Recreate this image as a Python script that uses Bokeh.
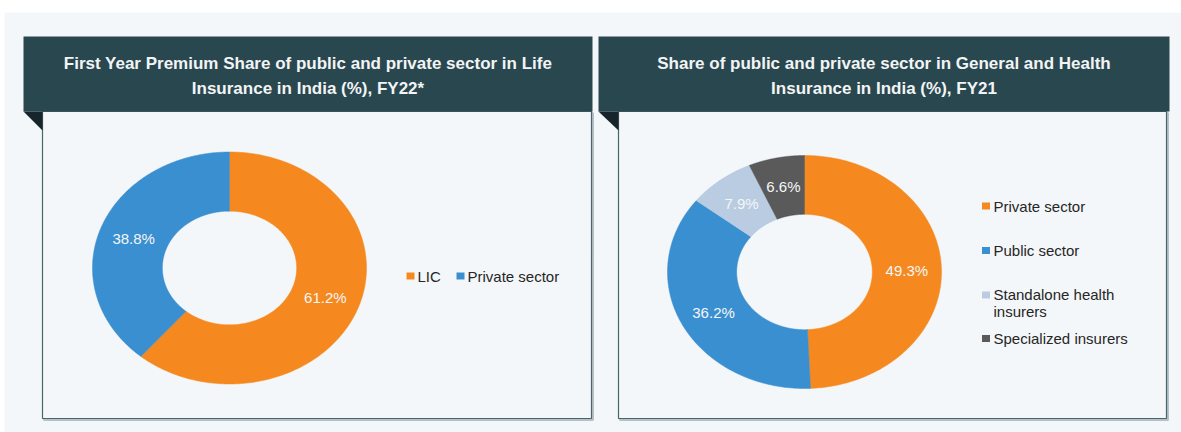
import numpy as np
from bokeh.plotting import figure
from bokeh.models import Range1d
from bokeh.core.properties import value
from bokeh.embed import file_html
from bokeh.resources import INLINE

# ---------------- data ----------------
title_left = ["First Year Premium Share of public and private sector in Life",
              "Insurance in India (%), FY22*"]
title_right = ["Share of public and private sector in General and Health",
               "Insurance in India (%), FY21"]

life_categories = ["LIC", "Private sector"]
life_shares = [61.2, 38.8]
life_colors = ["#F5891F", "#3A8FD0"]

gen_categories = ["Private sector", "Public sector", "Standalone health\ninsurers", "Specialized insurers"]
gen_shares = [49.3, 36.2, 7.9, 6.6]
gen_colors = ["#F5891F", "#3A8FD0", "#B9CCE1", "#5A5A5A"]

FONT = "Liberation Sans"

W, H = 1181, 432
p = figure(width=W, height=H, output_backend="svg", toolbar_location=None,
           x_range=Range1d(0, W), y_range=Range1d(H, 0),
           min_border=0, border_fill_color="white", background_fill_color="white")
p.axis.visible = False
p.grid.visible = False
p.outline_line_color = None

# page background
p.quad(left=[4], right=[1190], top=[12], bottom=[440], fill_color="#F4F7F9", line_color=None)


def panel(x0, x1, bx0, bx1, title):
    # shadow of box
    p.quad(left=[bx0 + 1.5], right=[bx1 + 1.5], top=[111 + 1.5], bottom=[418 + 1.5],
           fill_color=None, line_color="#B4C2C6", line_width=2)
    p.quad(left=[bx0], right=[bx1], top=[111], bottom=[418],
           fill_color="#F4F7F9", line_color="#4A646B", line_width=1.2)
    # banner
    p.quad(left=[x0], right=[x1], top=[36], bottom=[111], fill_color="#29474F", line_color=None)
    p.patch([x0, bx0, bx0], [111, 111, 130], fill_color="#16252A", line_color=None)
    cx = (x0 + x1) / 2
    p.text(x=[cx, cx], y=[63, 88], text=title, text_align="center", text_baseline="middle",
           text_font=value(FONT), text_font_style="bold", text_font_size="17px",
           text_color="#F2F4F5")


panel(23, 592, 42, 591, title_left)
panel(598, 1169, 618, 1166, title_right)


def donut(cx, cy, rx, ry, inner, shares, colors):
    total = float(sum(shares))
    start = 0.0
    xs, ys, lx, ly, labels = [], [], [], [], []
    for s in shares:
        end = start + s / total
        t = np.linspace(2 * np.pi * start, 2 * np.pi * end, 200)
        ox = cx + rx * np.sin(t)
        oy = cy - ry * np.cos(t)
        ix = cx + rx * inner * np.sin(t[::-1])
        iy = cy - ry * inner * np.cos(t[::-1])
        xs.append(np.concatenate([ox, ix]).tolist())
        ys.append(np.concatenate([oy, iy]).tolist())
        m = 2 * np.pi * (start + end) / 2
        rm = (1 + inner) / 2
        lx.append(cx + rx * rm * np.sin(m))
        ly.append(cy - ry * rm * np.cos(m))
        labels.append(f"{s:.1f}%")
        start = end
    p.patches(xs=xs, ys=ys, fill_color=colors, line_color=colors, line_width=0.5)
    p.text(x=lx, y=ly, text=labels, text_align="center", text_baseline="middle",
           text_font=value(FONT), text_font_size="15px", text_color="#F4F6F8")


donut(229, 267.5, 137, 116, 0.49, life_shares, life_colors)
donut(804, 271.5, 137, 116.5, 0.495, gen_shares, gen_colors)

# left legend (horizontal)
leg_x = [410, 460]
p.rect(x=leg_x, y=[275.5, 275.5], width=8, height=7, fill_color=life_colors, line_color=None)
p.text(x=[x + 7 for x in leg_x], y=[276, 276], text=life_categories, text_baseline="middle",
       text_font=value(FONT), text_font_size="15px", text_color="#262626")

# right legend (vertical)
leg_y = [205.5, 250, 294.5, 338]
p.rect(x=[985.5] * 4, y=leg_y, width=8, height=7, fill_color=gen_colors, line_color=None)
txt_y = [205.5, 250, 302, 338]
p.text(x=[993] * 4, y=txt_y, text=gen_categories, text_baseline="middle",
       text_font=value(FONT), text_font_size="15px", text_color="#262626",
       text_line_height=1.0)

open("out.html", "w").write(file_html(p, INLINE))
